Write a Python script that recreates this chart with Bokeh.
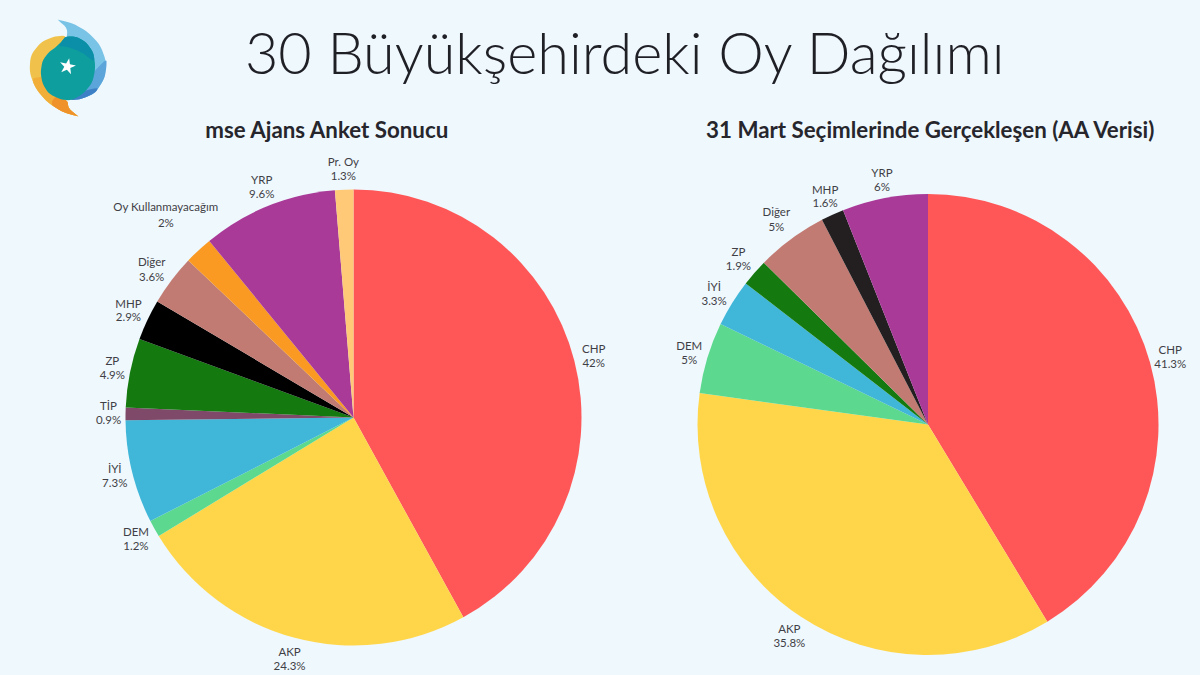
import numpy as np
from bokeh.core.properties import value
from bokeh.plotting import figure
from bokeh.models import Range1d, ColumnDataSource, GlobalInlineStyleSheet
from bokeh.embed import file_html
from bokeh.resources import INLINE

# ---- data ----
left_names = ["CHP", "AKP", "DEM", "İYİ", "TİP", "ZP", "MHP", "Diğer", "Oy Kullanmayacağım", "YRP", "Pr. Oy"]
left_values = [42, 24.3, 1.2, 7.3, 0.9, 4.9, 2.9, 3.6, 2, 9.6, 1.3]
right_names = ["CHP", "AKP", "DEM", "İYİ", "ZP", "Diğer", "MHP", "YRP"]
right_values = [41.3, 35.8, 5, 3.3, 1.9, 5, 1.6, 6]

# ---- style / layout ----
BG = "#EFF8FD"
TEXT = "#3F3F46"
left_colors = ["#FF5757", "#FFD64A", "#5CD98F", "#40B6D8", "#7F4A6A", "#14790F", "#000000",
               "#C27B72", "#FA9A22", "#A93A98", "#FFC977"]
right_colors = ["#FF5757", "#FFD64A", "#5CD98F", "#40B6D8", "#14790F", "#C27B72", "#231F20", "#A93A98"]
left_nudge = [(0, 0), (0, 1), (-1, 0), (2, -1), (3, -1), (2, -1), (-1, -1), (-4, 1), (-19, -21), (1, -1), (0, -1)]
right_nudge = [(1, -1), (-1, 2), (1, 1), (-1, 1), (-1, -1), (-3, -4), (1, -1), (1, 1)]
left_gap = [14, 14, 14, 14, 14, 14, 13, 15, 16, 14, 14]
right_gap = [14, 14, 14, 14, 14, 15, 13, 14]
W, H = 1200, 675
FONT = value("Lato")


def Y(y):
    return 675 - y


p = figure(width=W, height=H, output_backend="svg", toolbar_location=None,
           x_range=Range1d(0, 1200), y_range=Range1d(0, 675),
           background_fill_color=BG, border_fill_color=BG, outline_line_color=None,
           min_border=0, x_axis_type=None, y_axis_type=None)
p.grid.visible = False
p.stylesheets = [GlobalInlineStyleSheet(css=f"html,body{{background:{BG};}}")]


def pie(names, values, colors, nudge, gaps, cx, cy, r):
    vals = np.array(values, dtype=float)
    frac = vals / vals.sum()
    ends = np.cumsum(frac)
    starts = ends - frac
    mids = (starts + ends) / 2 * 2 * np.pi
    src = ColumnDataSource(dict(
        start=np.pi / 2 - starts * 2 * np.pi, end=np.pi / 2 - ends * 2 * np.pi, color=colors))
    p.wedge(x=cx, y=Y(cy), radius=r, start_angle="start", end_angle="end", direction="clock",
            fill_color="color", line_color=None, source=src)
    lx = [cx + (r + 20) * np.sin(m) + n[0] for m, n in zip(mids, nudge)]
    ly = [cy - (r + 20) * np.cos(m) + n[1] for m, n in zip(mids, nudge)]
    name_y = [Y(y - g / 2) for y, g in zip(ly, gaps)]
    pct_y = [Y(y + g / 2) for y, g in zip(ly, gaps)]
    pct = [f"{v:g}%" for v in values]
    for ys, txt in ((name_y, names), (pct_y, pct)):
        p.text(x=lx, y=ys, text=txt, text_font=FONT, text_font_size="11.5px", text_color=TEXT,
               text_align="center", text_baseline="middle")


pie(left_names, left_values, left_colors, left_nudge, left_gap, 353, 417, 228)
pie(right_names, right_values, right_colors, right_nudge, right_gap, 927.5, 424, 230.5)

# titles
p.text(x=[625], y=[Y(51)], text=["30 Büyükşehirdeki Oy Dağılımı"], text_font=value("Lato Light"),
       text_font_size="57.6px", text_color="#1F1F26", text_align="center", text_baseline="middle")
p.text(x=[327, 930.5], y=[Y(129), Y(129)], text=["mse Ajans Anket Sonucu", "31 Mart Seçimlerinde Gerçekleşen (AA Verisi)"],
       text_font=FONT, text_font_size="22.3px", text_font_style="bold", text_color="#26262C",
       text_align="center", text_baseline="middle")


def smooth(pts, rounds=2):
    """Corner-cut a hand-traced outline of the logo so its edges read as curves."""
    a = np.array(pts, dtype=float)
    for _ in range(rounds):
        b = np.roll(a, -1, axis=0)
        a = np.column_stack([0.8 * a + 0.2 * b, 0.2 * a + 0.8 * b]).reshape(-1, 2)
    return a


# logo
logo_parts = [
    ("#79C3E6", [(57, 19), (57, 19), (73, 23), (88, 32), (100, 45), (106, 62), (104, 78), (95, 92), (83, 98), (70, 100),
                 (60, 90), (66, 40), (67, 28)]),
    ("#5CA5DA", [(106, 58), (106, 66), (104, 78), (95, 92), (83, 98), (70, 100), (70, 90), (90, 75)]),
    ("#3E80C6", [(98, 87), (95, 92), (83, 98), (70, 100), (70, 94), (85, 90)]),
    ("#F0C24B", [(78, 116), (78, 116), (63, 112), (47, 102), (35, 88), (29, 72), (30, 55), (40, 42), (53, 36), (66, 35),
                 (62, 42), (55, 47), (45, 55), (41, 68), (43, 82), (53, 93), (67, 100), (68, 108)]),
    ("#F1AE38", [(78, 116), (78, 116), (63, 112), (47, 102), (36, 89), (31, 78), (42, 76), (43, 82), (53, 93), (67, 100), (68, 108)]),
    ("#EE9229", [(78, 116), (78, 116), (63, 112), (50, 104), (55, 95), (67, 100), (68, 108)]),
    ("#0F9E9E", [(65, 36), (75, 36), (85, 41), (93, 52), (95, 67), (92, 82), (83, 93), (71, 100), (60, 99),
                 (48, 93), (42, 83), (40, 72), (42, 60), (48, 52), (56, 46), (62, 40)]),
    ("#0B8FA8", [(65, 36), (75, 36), (85, 41), (93, 52), (94, 62), (82, 52), (66, 46), (58, 46), (62, 40)]),
]
smoothed = [(c, smooth(pts)) for c, pts in logo_parts]
p.patches([list(a[:, 0]) for _, a in smoothed], [list(675 - a[:, 1]) for _, a in smoothed],
          fill_color=[c for c, _ in smoothed], line_color=None)
p.scatter(x=[67], y=[Y(66)], marker="star", size=17, fill_color="white", line_color=None, angle=-0.2)

open("out.html", "w").write(file_html(p, INLINE))
